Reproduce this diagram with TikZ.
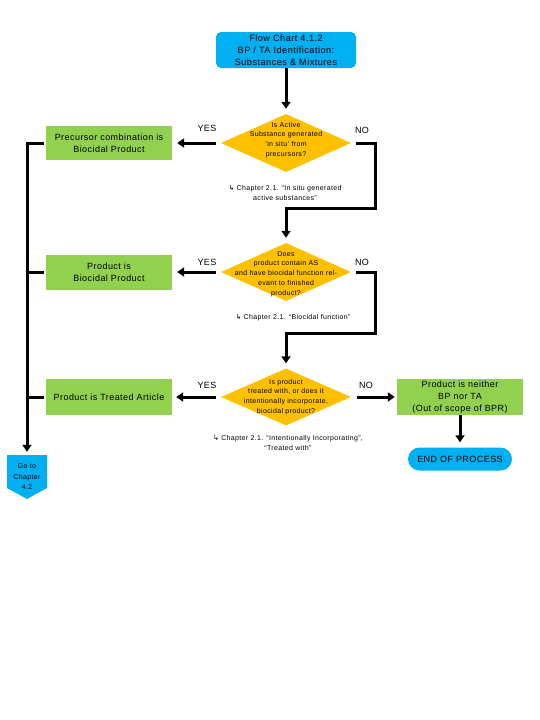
\documentclass[tikz,border=0pt]{standalone}
\usepackage{fontspec}
\setmainfont{Liberation Sans}[LetterSpace=5]
\newfontfamily\symfont{DejaVu Sans}
\usetikzlibrary{shapes.geometric,arrows.meta}
\definecolor{cblue}{HTML}{00B0F0}
\definecolor{cgreen}{HTML}{92D050}
\definecolor{cyellow}{HTML}{FFC000}
\begin{document}
\begin{tikzpicture}[x=1pt,y=-1pt,
 titlebox/.style={fill=cblue, rounded corners=5pt, minimum width=140pt, minimum height=36pt, inner sep=0pt, align=center, font=\fontsize{9.2}{12}\selectfont},
 greenbox/.style={fill=cgreen, minimum width=126pt, minimum height=34pt, inner sep=0pt, align=center, font=\fontsize{9}{12}\selectfont},
 decision/.style={diamond, fill=cyellow, minimum width=130pt, minimum height=58pt, inner sep=0pt},
 dtext/.style={align=center, font=\fontsize{7}{9.8}\selectfont, inner sep=0pt},
 note/.style={align=center, font=\fontsize{7}{10}\selectfont, inner sep=0pt},
 yn/.style={font=\fontsize{9}{11}\selectfont, inner sep=0pt},
 endbox/.style={fill=cblue, rounded corners=11.5pt, minimum width=104pt, minimum height=23pt, inner sep=0pt, font=\fontsize{9}{11}\selectfont},
 gototext/.style={minimum width=40pt, minimum height=44pt, inner sep=0pt, align=center, font=\fontsize{7}{10.5}\selectfont},
 conn/.style={line width=3pt},
 arr/.style={conn, -{Triangle[length=7pt,width=9pt]}},
]
\useasboundingbox (0,0) rectangle (540,720);

% title
\node[titlebox] (title) at (286,50) {Flow Chart 4.1.2\\BP / TA Identification:\\Substances \& Mixtures};

% decisions
\node[decision] (d1) at (286,143) {};
\node[dtext] (t1) at (286,140) {Is Active\\Substance generated\\‘in situ’ from\\precursors?};
\node[decision] (d2) at (286,272) {};
\node[dtext] (t2) at (286,274) {Does\\product contain AS\\and have biocidal function rel-\\evant to finished\\product?};
\node[decision, minimum height=57pt] (d3) at (286,397) {};
\node[dtext] (t3) at (286,397) {Is product\\treated with, or does it\\intentionally incorporate,\\biocidal product?};

% outcome boxes
\node[greenbox] (b1) at (109,143) {Precursor combination is\\Biocidal Product};
\node[greenbox, minimum height=35pt] (b2) at (109,272) {Product is\\Biocidal Product};
\node[greenbox, minimum height=36pt] (b3) at (109,397) {Product is Treated Article};
\node[greenbox, minimum height=36pt] (b4) at (460,397) {Product is neither\\BP nor TA\\(Out of scope of BPR)};
\node[endbox] (endp) at (460,459) {END OF PROCESS};

% go to chapter
\fill[cblue] (7,455) -- (47,455) -- (47,488) -- (27,499) -- (7,488) -- cycle;
\node[gototext] (goto) at (27,477) {Go to\\Chapter\\4.2};

% notes
\node[note] (n1) at (285,193) {{\symfont ↳} Chapter 2.1. “In situ generated\\active substances”};
\node[note] (n2) at (293,318) {{\symfont ↳} Chapter 2.1. “Biocidal function”};
\node[note] (n3) at (288,443) {{\symfont ↳} Chapter 2.1. “Intentionally Incorporating”,\\“Treated with”};

% yes / no labels
\node[yn] (y1) at (207,128) {YES};
\node[yn] (y2) at (207,262) {YES};
\node[yn] (y3) at (207,385) {YES};
\node[yn] (no1) at (362,130) {NO};
\node[yn] (no2) at (362,262) {NO};
\node[yn] (no3) at (366,385) {NO};

% connectors
\coordinate (c1) at (375,208);
\coordinate (c2) at (375,333);
\draw[arr, shorten >=5pt] (title) -- (d1);
\draw[arr, shorten <=5pt, shorten >=5pt] (d1.west) -- (b1.east);
\draw[arr, shorten <=5pt, shorten >=5pt] (d2.west) -- (b2.east);
\draw[arr, shorten <=5pt, shorten >=4pt] (d3.west) -- (b3.east);
\draw[arr, shorten <=5pt, shorten >=5pt] (d1.east) -| (c1) -| (d2.north);
\draw[arr, shorten <=5pt, shorten >=5pt] (d2.east) -| (c2) -| (d3.north);
\draw[arr, shorten <=6pt, shorten >=2pt] (d3.east) -- (b4.west);
\draw[arr, shorten >=5pt] (b4.south) -- (endp.north);
\draw[arr, shorten <=2pt, shorten >=3pt] (b1.west) -| (goto.north);
\draw[conn, shorten <=2pt, shorten >=-1.5pt] (b2.west) -- (b2.west -| goto.north);
\draw[conn, shorten <=2pt, shorten >=-1.5pt] (b3.west) -- (b3.west -| goto.north);
\end{tikzpicture}
\end{document}
